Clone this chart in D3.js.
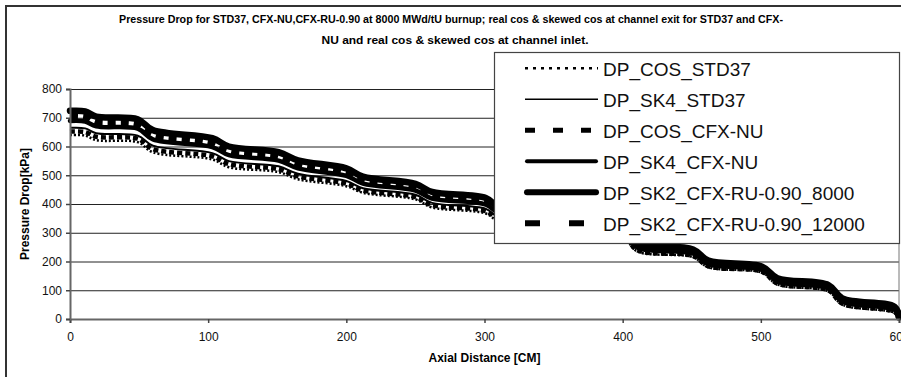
<!DOCTYPE html>
<html>
<head>
<meta charset="utf-8">
<script src="https://cdn.jsdelivr.net/npm/d3@7"></script>
<style>
  html, body { margin: 0; padding: 0; background: #fff; overflow: hidden; }
  svg { display: block; font-family: "Liberation Sans", Arial, sans-serif; }
</style>
</head>
<body>
<div id="chart"></div>
<script>
// values: axial distance [cm] and pressure drop [kPa]
const axialCm = [0, 11, 19, 49, 60, 103, 115, 151, 165, 200, 212, 250, 262, 301, 311, 350, 361, 401, 411, 451, 462, 501, 512, 549, 559, 597, 600];

const dpCosStd37 = [640, 638, 622, 615, 580, 555, 528, 511, 486, 462, 439, 416, 388, 367, 337, 324, 292, 278, 234, 215, 180, 161, 120, 96, 50, 21, 2];
const dpSk4Std37 = [665, 663, 646, 638, 603, 577, 549, 531, 505, 480, 455, 432, 404, 383, 351, 337, 303, 288, 242, 223, 186, 167, 126, 102, 56, 27, 3];
const dpCosCfxNu = [652, 650, 634, 627, 591, 566, 539, 521, 496, 471, 447, 424, 396, 375, 344, 330, 298, 283, 238, 219, 183, 164, 123, 99, 53, 24, 2];
const dpSk4CfxNu = [689, 687, 670, 662, 625, 598, 570, 551, 524, 498, 471, 447, 419, 398, 366, 349, 315, 297, 251, 230, 193, 172, 132, 108, 62, 32, 4];
const dpSk2Ru8000 = [724, 722, 704, 695, 657, 629, 600, 580, 552, 524, 495, 470, 442, 421, 387, 368, 332, 312, 264, 242, 203, 182, 142, 118, 72, 42, 5];
const dpSk2Ru12000 = [706, 704, 686, 677, 640, 613, 584, 565, 537, 510, 482, 458, 430, 409, 375, 358, 322, 304, 256, 235, 197, 176, 136, 112, 66, 36, 4];

const seriesNames = ["DP_COS_STD37", "DP_SK4_STD37", "DP_COS_CFX-NU", "DP_SK4_CFX-NU", "DP_SK2_CFX-RU-0.90_8000", "DP_SK2_CFX-RU-0.90_12000"];
const seriesValues = [dpCosStd37, dpSk4Std37, dpCosCfxNu, dpSk4CfxNu, dpSk2Ru8000, dpSk2Ru12000];

const xTicks = [0, 100, 200, 300, 400, 500, 600];
const yTicks = [0, 100, 200, 300, 400, 500, 600, 700, 800];

const titleLines = [
  "Pressure Drop for STD37, CFX-NU,CFX-RU-0.90 at 8000 MWd/tU burnup; real cos & skewed cos at channel exit for STD37 and CFX-",
  "NU and real cos & skewed cos at channel inlet."
];

// line styles: chart stroke and legend sample
const styles = [
  { width: 2.5, dash: "2,2", cap: "butt", legWidth: 2.5, legDash: "3,5" },
  { width: 2, dash: null, cap: "butt", legWidth: 1.5, legDash: null },
  { width: 4.5, dash: "5,3", cap: "butt", legWidth: 5, legDash: "10,18" },
  { width: 4.5, dash: null, cap: "round", legWidth: 4, legDash: null },
  { width: 6.5, dash: null, cap: "round", legWidth: 6, legDash: null },
  { width: 6.5, dash: "8,5", cap: "butt", legWidth: 6, legDash: "15,29" }
];

// MARGIN CONVENTIONS
const outerWidth = 901;
const outerHeight = 377;
const margin = { top: 89, right: 2, bottom: 58, left: 70 };
const width = outerWidth - margin.left - margin.right;
const height = outerHeight - margin.top - margin.bottom;

const svg = d3.select("#chart").append("svg")
  .attr("width", outerWidth)
  .attr("height", outerHeight);

// outer chart frame
svg.append("rect")
  .attr("x", 6)
  .attr("y", 6)
  .attr("width", outerWidth)
  .attr("height", outerHeight)
  .attr("fill", "#fff")
  .attr("stroke", "#333")
  .attr("stroke-width", 2);

const g = svg.append("g")
  .attr("transform", `translate(${margin.left}, ${margin.top})`);

// scales
const x = d3.scaleLinear().domain([0, 600]).range([0, width]);
const y = d3.scaleLinear().domain([0, 800]).range([height, 0]);

// gridlines
g.append("g")
  .call(d3.axisLeft(y).tickValues(yTicks.filter(v => v > 0)).tickSize(-width).tickFormat(""))
  .call(s => s.select(".domain").remove())
  .call(s => s.selectAll("line").attr("stroke", "#222").attr("stroke-width", 1));

// right border of plot area
g.append("line")
  .attr("x1", width).attr("x2", width)
  .attr("y1", 0).attr("y2", height)
  .attr("stroke", "#777");

// series
const line = d3.line()
  .x((d, i) => x(axialCm[i]))
  .y(d => y(d))
  .curve(d3.curveCatmullRom.alpha(0.5));

seriesValues.forEach((vals, i) => {
  g.append("path")
    .attr("d", line(vals))
    .attr("fill", "none")
    .attr("stroke", "#000")
    .attr("stroke-width", styles[i].width)
    .attr("stroke-dasharray", styles[i].dash)
    .attr("stroke-linecap", styles[i].cap)
    .attr("stroke-linejoin", "round");
});

// axes
const xAxis = g.append("g")
  .attr("transform", `translate(0, ${height})`)
  .call(d3.axisBottom(x).tickValues(xTicks).tickSize(4).tickPadding(9));
const yAxis = g.append("g")
  .call(d3.axisLeft(y).tickValues(yTicks).tickSize(4).tickPadding(4));

[xAxis, yAxis].forEach(a => {
  a.select(".domain").attr("stroke", "#666").attr("stroke-width", 2);
  a.selectAll(".tick line").attr("stroke", "#444").attr("stroke-width", 1.5);
  a.selectAll(".tick text")
    .attr("fill", "#111")
    .style("font-size", "12px")
    .style("font-family", '"Liberation Sans", Arial, sans-serif');
});

// axis labels
g.append("text")
  .attr("text-anchor", "middle")
  .attr("x", width / 2)
  .attr("y", height + 43)
  .style("font-size", "12px")
  .style("font-weight", "bold")
  .text("Axial Distance [CM]");

g.append("text")
  .attr("text-anchor", "middle")
  .attr("transform", "rotate(-90)")
  .attr("x", -height / 2)
  .attr("y", -margin.left + 29)
  .style("font-size", "12px")
  .style("font-weight", "bold")
  .text("Pressure Drop[kPa]");

// title
svg.selectAll(".title")
  .data(titleLines)
  .join("text")
  .attr("class", "title")
  .attr("text-anchor", "middle")
  .attr("x", (d, i) => i === 0 ? 451 : 455)
  .attr("y", (d, i) => 23 + i * 21)
  .attr("textLength", (d, i) => i === 0 ? 664 : 267)
  .attr("lengthAdjust", "spacingAndGlyphs")
  .style("font-size", "10.5px")
  .style("font-weight", "bold")
  .text(d => d);

// legend
const legend = svg.append("g")
  .attr("transform", "translate(494, 52)");

legend.append("rect")
  .attr("x", 0.5)
  .attr("y", 0.5)
  .attr("width", 405)
  .attr("height", 191)
  .attr("fill", "#fff")
  .attr("stroke", "#444")
  .attr("stroke-width", 1.2);

const items = legend.selectAll(".item")
  .data(seriesNames)
  .join("g")
  .attr("class", "item")
  .attr("transform", (d, i) => `translate(0, ${16.3 + i * 31})`);

items.append("line")
  .attr("x1", (d, i) => styles[i].cap === "round" ? 33 : 31)
  .attr("x2", (d, i) => styles[i].cap === "round" ? 102 : 104)
  .attr("stroke", "#000")
  .attr("stroke-width", (d, i) => styles[i].legWidth)
  .attr("stroke-dasharray", (d, i) => styles[i].legDash)
  .attr("stroke-linecap", (d, i) => styles[i].cap);

items.append("text")
  .attr("x", 109)
  .attr("y", 7.5)
  .style("font-size", "19px")
  .attr("fill", "#111")
  .text(d => d);
</script>
</body>
</html>
